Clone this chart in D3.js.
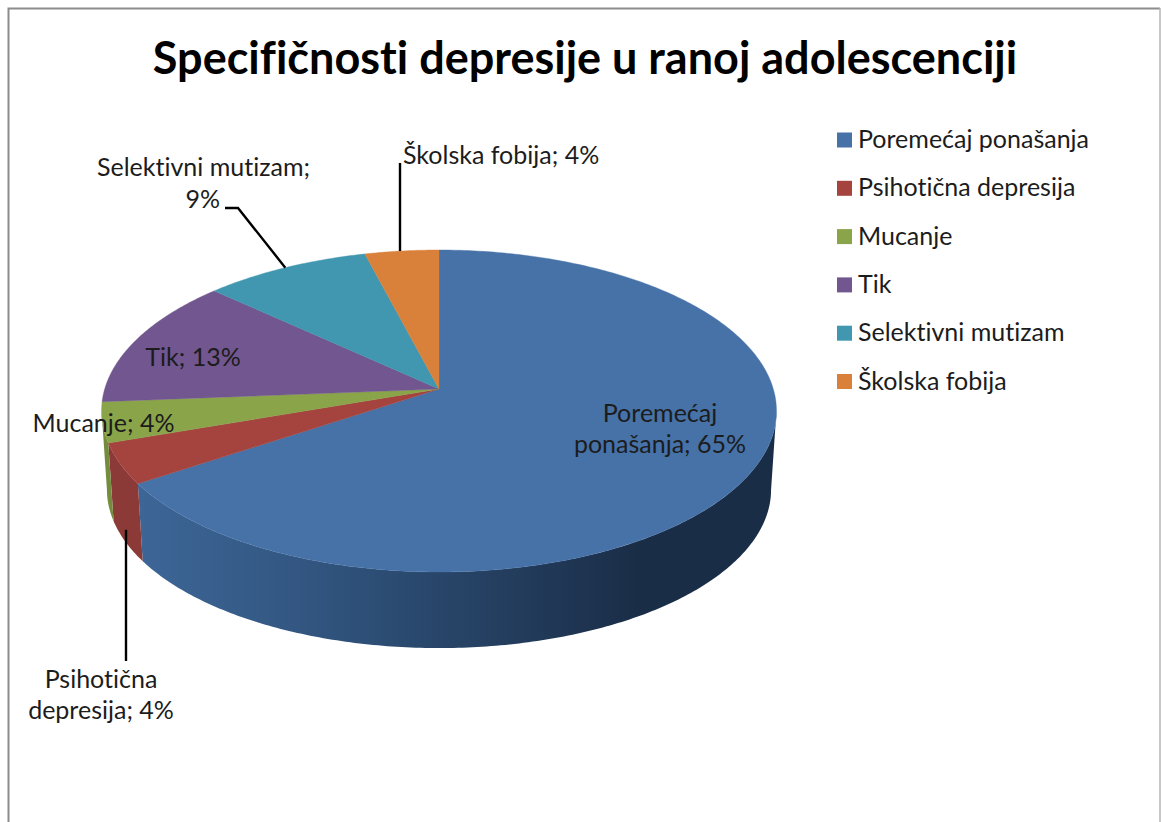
<!DOCTYPE html>
<html><head><meta charset="utf-8">
<script src="https://cdnjs.cloudflare.com/ajax/libs/d3/7.8.5/d3.min.js"></script>
<style>html,body{margin:0;padding:0;background:#fff}svg{display:block}text{font-family:Lato,"Open Sans",sans-serif;fill:#1c1c1c;font-variant-ligatures:none}</style>
</head><body><svg id="c" width="1161" height="822"></svg>
<script>
const chartTitle = "Specifičnosti depresije u ranoj adolescenciji";
const categories = ["Poremećaj ponašanja","Psihotična depresija","Mucanje","Tik","Selektivni mutizam","Školska fobija"];
const percents = [65,4,4,13,9,4];
const topColors = ["#4672a8","#a5443f","#8aa44a","#71568f","#4097af","#d9803a"];
const wallColors = ["#3a6290","#8b3a37","#748c3e","#5f4879","#367f94","#b86c31"];
const labelLines = [["Poremećaj","ponašanja; 65%"],["Psihotična","depresija; 4%"],["Mucanje; 4%"],["Tik; 13%"],["Selektivni mutizam;","9%"],["Školska fobija; 4%"]];
const labelAnchors = [[660,422,31,"middle"],[101,688,31,"middle"],[103.5,432,0,"middle"],[193,366,0,"middle"],[310,176,32,"end"],[403,164,0,"start"]];

const svg = d3.select("#c");
// frame
svg.append("path").attr("d",`M8.5 822V8.5H1160`).attr("fill","none").attr("stroke","#8c8c8c").attr("stroke-width",2);
svg.append("line").attr("x1",1160).attr("x2",1160).attr("y1",8).attr("y2",822).attr("stroke","#b4b4b4").attr("stroke-width",1.5);

// perspective projection of the unit disc
const cx=439, cy=389, R=334.3, A=158, K=0.1366, shrink=0.984, depth=79;
function project(angle,z){
  const u=Math.sin(angle), v=-Math.cos(angle), d=1-K*v, s=1-(1-shrink)*z;
  return [cx+R*s*u/d, cy+A*s*v/d+depth*z];
}
const pieGen=d3.pie().value(d=>d).sort(null);
const slices=pieGen(percents);
const lineGen=d3.line();
function arcPts(a0,a1,z){
  const n=Math.max(4,Math.ceil((a1-a0)*80));
  return d3.range(n+1).map(i=>project(a0+(a1-a0)*i/n,z));
}
// the wall is visible only between the two widest points of the ellipse
const wallStart=Math.acos(-K), wallEnd=2*Math.PI-wallStart;
const wallSlices=slices.map((s,i)=>({i,a0:Math.max(s.startAngle,wallStart),a1:Math.min(s.endAngle,wallEnd)})).filter(w=>w.a1>w.a0);
// wall gradient
const defs=svg.append("defs");
const gx=d3.scaleLinear().domain([0,1]).range([138,640]);
const grad=defs.append("linearGradient").attr("id","wall0").attr("gradientUnits","userSpaceOnUse")
  .attr("x1",gx(0)).attr("x2",gx(1)).attr("y1",0).attr("y2",0);
grad.append("stop").attr("offset",0).attr("stop-color","#3d6697");
grad.append("stop").attr("offset",0.35).attr("stop-color","#31557f");
grad.append("stop").attr("offset",1).attr("stop-color","#1a2d47");
// walls
svg.append("g").selectAll("path").data(wallSlices).join("path")
  .attr("d",w=>lineGen(arcPts(w.a0,w.a1,0).concat(arcPts(w.a0,w.a1,1).reverse()))+"Z")
  .attr("fill",w=>w.i===0?"url(#wall0)":wallColors[w.i]);
// top faces
svg.append("g").selectAll("path").data(slices).join("path")
  .attr("d",s=>lineGen([[cx,cy]].concat(arcPts(s.startAngle,s.endAngle,0)))+"Z")
  .attr("fill",(s,i)=>topColors[i]).attr("stroke",(s,i)=>topColors[i]).attr("stroke-width",0.4);
// leaders
const midA=s=>(s.startAngle+s.endAngle)/2;
const leaders=[
  [project(midA(slices[1]),0.85).map((v,i)=>i?v:126),[126,661]],
  [project(midA(slices[4]),0),[238,208],[225,208]],
  [[400,project(midA(slices[5]),0)[1]],[400,163]]
];
svg.append("g").selectAll("path").data(leaders).join("path")
  .attr("d",d=>lineGen(d)).attr("fill","none").attr("stroke","#000").attr("stroke-width",2.4);
// data labels
const lab=svg.append("g").selectAll("text").data(labelLines).join("text")
  .attr("font-size",25).attr("text-anchor",(d,i)=>labelAnchors[i][3]);
lab.each(function(lines,i){
  const a=labelAnchors[i];
  lines.forEach((t,j)=>{
    let x=a[0];
    if(i===4&&j===1) x=220;
    d3.select(this).append("tspan").attr("x",x).attr("y",a[1]+j*a[2]).text(t);
  });
});
// legend
const legendY=d3.scalePoint().domain(categories).range([140,381.5]);
const leg=svg.append("g").selectAll("g").data(categories).join("g");
leg.append("rect").attr("x",837).attr("width",15).attr("height",15)
  .attr("y",d=>legendY(d)-7.5).attr("fill",(d,i)=>topColors[i]);
leg.append("text").attr("x",858).attr("y",d=>legendY(d)+8).attr("font-size",25).text(d=>d);
// title
svg.append("text").attr("x",585).attr("y",74).attr("text-anchor","middle")
  .attr("font-size",45).attr("font-weight",700).style("fill","#000").text(chartTitle);
</script></body></html>
